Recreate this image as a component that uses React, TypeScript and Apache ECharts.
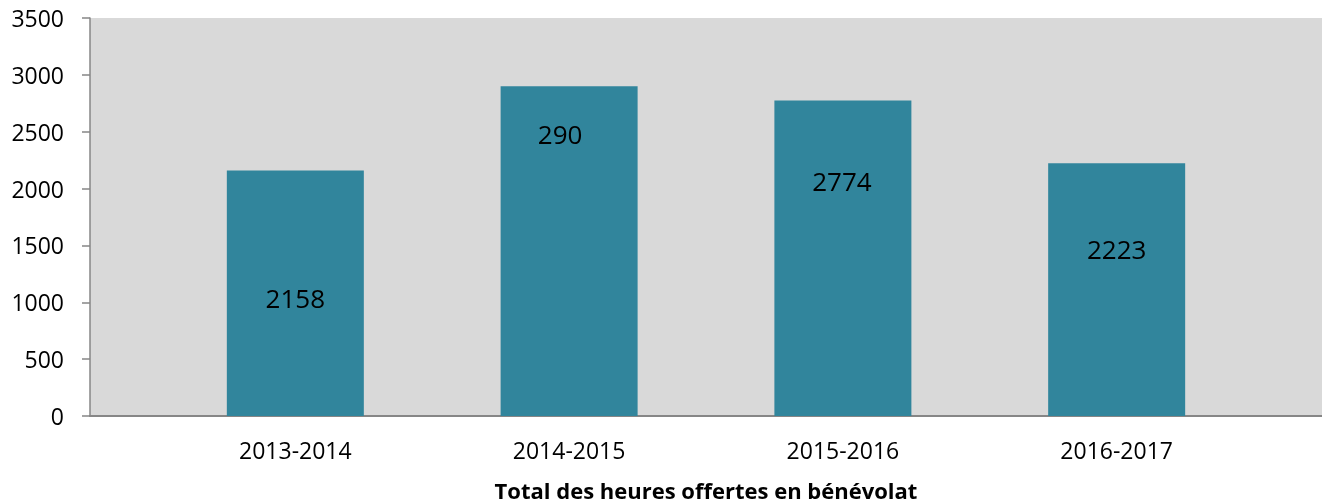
import React, { useEffect, useRef } from "react";
import * as echarts from "echarts";

const categories = ["2013-2014", "2014-2015", "2015-2016", "2016-2017"];
const values = [2158, 2900, 2774, 2223];
const labelTexts = ["2158", "290", "2774", "2223"];
const yTicks = [0, 500, 1000, 1500, 2000, 2500, 3000, 3500];
const xTitle = "Total des heures offertes en bénévolat";

// label offsets (style): [dx, dy from bar top to label centre]
const labelPlacement = [
  [0, 127],
  [-9, 48],
  [-1, 80],
  [0, 86],
];

const FONT = "'Open Sans', 'Noto Sans', sans-serif";

export default function App() {
  const ref = useRef<HTMLDivElement>(null);

  useEffect(() => {
    if (!ref.current) return;
    const chart = echarts.init(ref.current, null, { renderer: "svg" });
    const option = {
      animation: false,
      grid: {
        left: 90,
        right: 0,
        top: 18,
        bottom: 88,
        show: true,
        backgroundColor: "#d9d9d9",
        borderWidth: 0,
        containLabel: false,
      },
      xAxis: {
        type: "value",
        min: -0.75,
        max: 3.75,
        splitLine: { show: false },
        axisTick: { show: false },
        axisLine: { show: true, onZero: false, lineStyle: { color: "#868686", width: 2 } },
        axisLabel: {
          customValues: [0, 1, 2, 3],
          formatter: (v: number) => categories[Math.round(v)] ?? "",
          color: "#000",
          fontFamily: FONT,
          fontSize: 23,
          margin: 22,
        },
      },
      yAxis: {
        type: "value",
        min: yTicks[0],
        max: yTicks[yTicks.length - 1],
        interval: 500,
        splitLine: { show: false },
        axisLine: { show: true, onZero: false, lineStyle: { color: "#868686", width: 1.5 } },
        axisTick: { show: true, length: 8, lineStyle: { color: "#868686", width: 1.5 } },
        axisLabel: {
          color: "#000",
          fontFamily: FONT,
          fontSize: 23,
          margin: 26,
          formatter: (v: number) => String(v),
        },
      },
      graphic: [
        {
          type: "text",
          x: 706,
          y: 490,
          style: {
            text: xTitle,
            fill: "#000",
            font: `bold 22px ${FONT}`,
            textAlign: "center",
            textVerticalAlign: "middle",
          },
        },
      ],
      series: [
        {
          type: "bar",
          barWidth: 137,
          itemStyle: { color: "#31859c" },
          data: values.map((v, i) => ({
            value: [i, v],
            label: {
              show: true,
              formatter: labelTexts[i],
              position: ["50%", labelPlacement[i][1]],
              offset: [labelPlacement[i][0], 0],
              align: "center",
              verticalAlign: "middle",
              color: "#000",
              fontFamily: FONT,
              fontSize: 26,
            },
          })),
        },
      ],
    };
    chart.setOption(option as any);
    return () => chart.dispose();
  }, []);

  return (
    <div
      ref={ref}
      style={{ position: "fixed", left: 0, top: 0, width: 1322, height: 504 }}
    />
  );
}
